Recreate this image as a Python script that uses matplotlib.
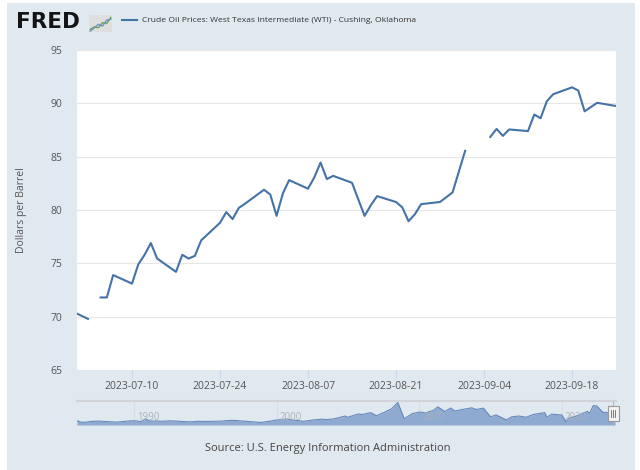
import numpy as np
import matplotlib
matplotlib.use("Agg")
import matplotlib.pyplot as plt
import matplotlib.dates as mdates
from matplotlib.patches import Rectangle
from matplotlib.lines import Line2D

plt.rcParams['font.family'] = ['Open Sans', 'DejaVu Sans']

# daily WTI spot price, NaN = market holiday (gap in the line)
dates = np.array([
    '2023-06-30', '2023-07-03', '2023-07-04', '2023-07-05', '2023-07-06', '2023-07-07',
    '2023-07-10', '2023-07-11', '2023-07-12', '2023-07-13', '2023-07-14',
    '2023-07-17', '2023-07-18', '2023-07-19', '2023-07-20', '2023-07-21',
    '2023-07-24', '2023-07-25', '2023-07-26', '2023-07-27', '2023-07-28',
    '2023-07-31', '2023-08-01', '2023-08-02', '2023-08-03', '2023-08-04',
    '2023-08-07', '2023-08-08', '2023-08-09', '2023-08-10', '2023-08-11',
    '2023-08-14', '2023-08-15', '2023-08-16', '2023-08-17', '2023-08-18',
    '2023-08-21', '2023-08-22', '2023-08-23', '2023-08-24', '2023-08-25',
    '2023-08-28', '2023-08-29', '2023-08-30', '2023-08-31', '2023-09-01',
    '2023-09-04', '2023-09-05', '2023-09-06', '2023-09-07', '2023-09-08',
    '2023-09-11', '2023-09-12', '2023-09-13', '2023-09-14', '2023-09-15',
    '2023-09-18', '2023-09-19', '2023-09-20', '2023-09-21', '2023-09-22',
    '2023-09-25'], dtype='datetime64[D]')
prices = np.array([
    70.64, 69.79, np.nan, 71.80, 71.80, 73.90,
    73.10, 74.90, 75.80, 76.90, 75.45,
    74.20, 75.80, 75.45, 75.70, 77.15,
    78.80, 79.80, 79.15, 80.20, 80.60,
    81.90, 81.45, 79.45, 81.55, 82.80,
    82.00, 83.05, 84.45, 82.90, 83.20,
    82.55, 81.00, 79.45, 80.45, 81.30,
    80.75, 80.25, 78.95, 79.60, 80.55,
    80.75, 81.20, 81.65, 83.60, 85.55,
    np.nan, 86.85, 87.60, 86.95, 87.55,
    87.40, 88.95, 88.60, 90.20, 90.85,
    91.50, 91.20, 89.25, 89.65, 90.05,
    89.75])

x_ticks = ['2023-07-10', '2023-07-24', '2023-08-07', '2023-08-21', '2023-09-04', '2023-09-18']
y_ticks = [65, 70, 75, 80, 85, 90, 95]

# rough long history for the navigator strip
nav_years = [1986.0, 1986.3, 1986.6, 1987.0, 1987.5, 1988.0, 1988.8, 1989.5, 1990.0, 1990.5,
             1990.8, 1991.1, 1991.5, 1992.0, 1992.5, 1993.0, 1993.9, 1994.5, 1995.0, 1996.0,
             1996.8, 1997.0, 1997.9, 1998.9, 1999.5, 2000.0, 2000.7, 2001.0, 2001.9, 2002.5,
             2003.2, 2003.5, 2004.0, 2004.8, 2005.0, 2005.7, 2006.0, 2006.6, 2007.0, 2007.5,
             2007.9, 2008.0, 2008.5, 2008.95, 2009.5, 2010.0, 2010.5, 2011.0, 2011.3, 2011.8,
             2012.2, 2012.5, 2013.0, 2013.7, 2014.0, 2014.5, 2015.0, 2015.4, 2016.1, 2016.5,
             2017.0, 2017.5, 2018.0, 2018.8, 2018.95, 2019.3, 2019.9, 2020.0, 2020.3, 2020.5,
             2021.0, 2021.8, 2021.95, 2022.2, 2022.45, 2022.9, 2023.0, 2023.5, 2023.73]
nav_vals = [22.9, 12.5, 13, 18, 20.5, 17, 13.5, 20, 22.5, 17,
            35, 20, 21, 19, 22, 20, 15, 19, 18, 19.5,
            25, 25, 18.5, 11.3, 19.5, 27, 34, 29, 19, 27,
            33, 30, 34, 53, 45, 66, 63, 75, 55, 75,
            93, 95, 140, 35, 68, 78, 75, 90, 112, 82,
            105, 85, 95, 106, 95, 104, 48, 60, 28, 48,
            53, 45, 63, 75, 45, 65, 60, 60, 15, 40,
            52, 83, 70, 120, 118, 75, 78, 70, 90]
nav_decades = [1990, 2000, 2010, 2020]

# little FRED logo sparkline
logo_green = [0.15, 0.30, 0.25, 0.55, 0.50, 0.85]
logo_blue = [0.05, 0.25, 0.45, 0.35, 0.70, 0.75]

W, H = 640, 470
fig = plt.figure(figsize=(6.4, 4.7), dpi=100)
fig.patch.set_facecolor('white')
fig.add_artist(Rectangle((7 / W, 0), 628 / W, 467 / H, transform=fig.transFigure,
                         facecolor='#e1e9f0', edgecolor='none', zorder=-10))

# main chart
ax = fig.add_axes([77 / W, 100 / H, 539 / W, 320 / H])
ax.set_facecolor('white')
ax.plot(dates, prices, color='#4572a7', lw=1.5, zorder=3)
ax.set_xlim(np.datetime64('2023-07-01T06:00'), np.datetime64('2023-09-25T00:00'))
ax.set_ylim(65, 95)
ax.set_yticks(y_ticks)
ax.set_xticks(np.array(x_ticks, dtype='datetime64[D]'))
ax.xaxis.set_major_formatter(mdates.DateFormatter('%Y-%m-%d'))
ax.grid(axis='y', color='#e6e6e6', lw=0.8)
ax.set_axisbelow(True)
for s in ax.spines.values():
    s.set_visible(False)
ax.tick_params(axis='y', length=0, pad=10.5, labelsize=7.5, labelcolor='#555555')
ax.tick_params(axis='x', length=6, width=0.8, color='#ccd6eb', pad=2,
               labelsize=7.5, labelcolor='#555555')
ax.set_ylabel('Dollars per Barrel', fontsize=7.5, color='#555555')
ax.yaxis.set_label_coords(-0.093, 0.5)

# navigator
nav = fig.add_axes([77 / W, 45 / H, 539 / W, 24 / H])
nav.set_facecolor('none')
nav.fill_between(nav_years, nav_vals, -5, color='#8eaad0', lw=0, zorder=1)
nav.plot(nav_years, nav_vals, color='#6688bb', lw=0.8, zorder=2)
nav.set_xlim(1986, 2023.8)
nav.set_ylim(-5, 150)
for yr in nav_decades:
    nav.axvline(yr, color='#d6dde6', lw=0.8, zorder=0)
    nav.text(yr + 0.2, 0.33, str(yr), transform=nav.get_xaxis_transform(),
             fontsize=7, color='#a9b1bb', va='center', ha='left', zorder=4)
nav.set_xticks([])
nav.set_yticks([])
for k, s in nav.spines.items():
    s.set_visible(k == 'top')
nav.spines['top'].set_color('#d0d4d9')
nav.spines['top'].set_linewidth(1.5)
nav.add_artist(Line2D([0.9945, 0.9945], [0, 1], transform=nav.transAxes,
                      color='#b0b8c2', lw=0.8, clip_on=False))
nav.add_patch(Rectangle((0.985, 0.17), 0.02, 0.62, transform=nav.transAxes,
                        facecolor='#f2f2f2', edgecolor='#999999', lw=0.8,
                        clip_on=False, zorder=5))
for xx in [0.9915, 0.9945, 0.9975]:
    nav.add_artist(Line2D([xx, xx], [0.32, 0.64], transform=nav.transAxes,
                          color='#666666', lw=0.6, clip_on=False, zorder=6))

# header: logo and legend
fig.text(16 / W, 1 - 21.5 / H, 'FRED', fontsize=15.5, fontweight='heavy',
         family='DejaVu Sans', color='#141414', va='center', ha='left')
icon = fig.add_axes([89 / W, 1 - 32 / H, 23 / W, 17 / H])
icon.set_facecolor('#dedede')
icon.plot(range(len(logo_green)), logo_green, color='#6aa84f', lw=1.0)
icon.plot(range(len(logo_blue)), logo_blue, color='#6f93c6', lw=1.0)
icon.set_xlim(-0.3, 5.3)
icon.set_ylim(0, 1)
icon.set_xticks([])
icon.set_yticks([])
for s in icon.spines.values():
    s.set_visible(False)

fig.add_artist(Line2D([121.5 / W, 136.5 / W], [1 - 20 / H, 1 - 20 / H],
                      transform=fig.transFigure, color='#4572a7', lw=1.5))
fig.text(142 / W, 1 - 20 / H,
         'Crude Oil Prices: West Texas Intermediate (WTI) - Cushing, Oklahoma',
         fontsize=6.1, color='#333333', va='center', ha='left')

fig.text(328 / W, 1 - 448 / H, 'Source: U.S. Energy Information Administration',
         fontsize=8, color='#444444', va='center', ha='center')

fig.savefig('out.png', dpi=100)
